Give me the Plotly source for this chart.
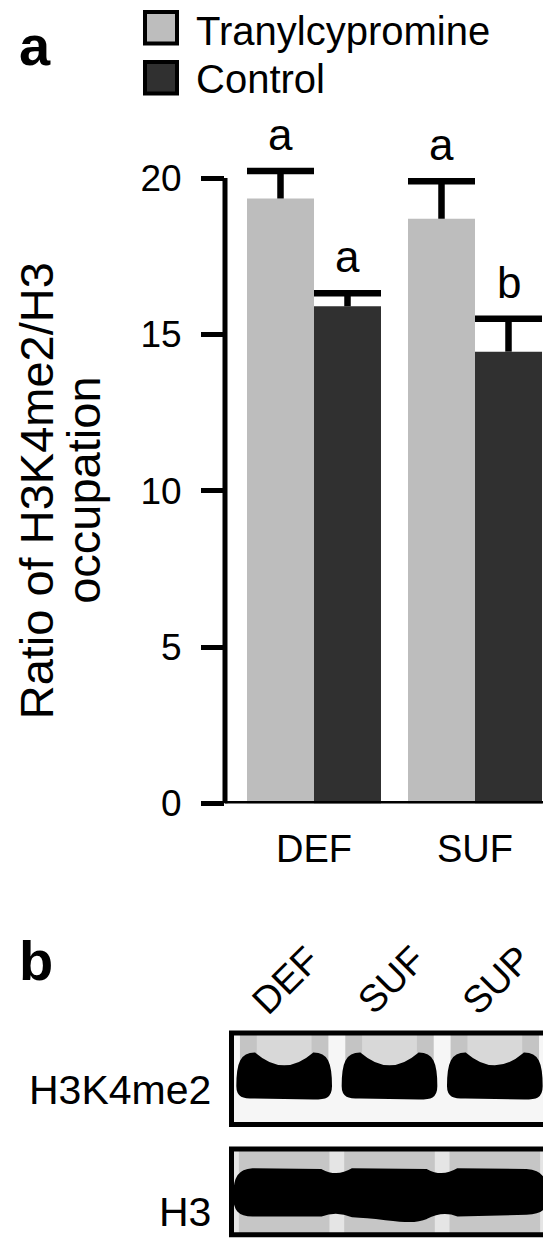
import plotly.graph_objects as go

W, H = 551, 1257

# ---------------- data ----------------
categories = ["DEF", "SUF"]
series_names = ["Tranylcypromine", "Control"]
tranyl_mean = [19.35, 18.7]
tranyl_err = [0.88, 1.2]
control_mean = [15.9, 14.45]
control_err = [0.42, 1.05]
sig_tranyl = ["a", "a"]
sig_control = ["a", "b"]
series_colors = ["#bdbdbd", "#303030"]
y_ticks = [0, 5, 10, 15, 20]
y_title_lines = ["Ratio of H3K4me2/H3", "occupation"]
blot_lanes = ["DEF", "SUF", "SUP"]
blot_rows = ["H3K4me2", "H3"]

FONT = "Liberation Sans, Arial, Helvetica, sans-serif"


def fx(px):
    return px / W


def fy(py):
    return 1 - py / H


# pixel geometry of panel a
Y0_PX, Y20_PX = 809, 173
PER_UNIT = (Y0_PX - Y20_PX) / 20.0
Y_MAX = 23.0
y_top_px = Y0_PX - Y_MAX * PER_UNIT
AX_X_PX = 217
CAT_PX = 161.0
x_lo = -(306 - AX_X_PX) / CAT_PX
x_hi = 1 + (550 - 467) / CAT_PX
bargap = 27 / CAT_PX
bar_w_units = (1 - bargap) / 2

fig = go.Figure()

series_means = [tranyl_mean, control_mean]
series_errs = [tranyl_err, control_err]
for name, mean, col in zip(series_names, series_means, series_colors):
    fig.add_trace(go.Bar(
        x=list(range(len(categories))), y=mean, name=name,
        marker=dict(color=col, line=dict(width=0)),
        showlegend=False, xaxis="x", yaxis="y",
    ))

# upper-only error bars (stem + cap spanning the bar width)
for si, (mean, err) in enumerate(zip(series_means, series_errs)):
    off = (-0.5 + si) * bar_w_units
    hw = bar_w_units / 2
    xs, ys = [], []
    for i in range(len(categories)):
        xc = i + off
        top = mean[i] + err[i]
        xs += [xc, xc, None, xc - hw, xc + hw, None]
        ys += [mean[i], top, None, top, top, None]
    fig.add_trace(go.Scatter(x=xs, y=ys, mode="lines", line=dict(color="black", width=6.5),
                             showlegend=False, hoverinfo="skip", xaxis="x", yaxis="y"))

# invisible traces to activate blot axes
for ax in ["2", "3"]:
    fig.add_trace(go.Scatter(x=[0, 3], y=[0, 1], mode="markers", marker=dict(opacity=0),
                             showlegend=False, hoverinfo="skip", xaxis="x" + ax, yaxis="y" + ax))

shapes = []
annotations = []

# axis lines of panel a
shapes.append(dict(type="line", xref="x domain", x0=0, x1=0, yref="y", y0=0, y1=max(y_ticks),
                   line=dict(color="black", width=5)))
shapes.append(dict(type="line", xref="x domain", x0=0, x1=1, yref="y", y0=0, y1=0,
                   line=dict(color="black", width=5)))

# significance letters
for si, (mean, err, sig) in enumerate(zip(series_means, series_errs, [sig_tranyl, sig_control])):
    off = (-0.5 + si) * bar_w_units
    for i in range(len(categories)):
        annotations.append(dict(x=i + off, y=mean[i] + err[i], xref="x", yref="y", text=sig[i],
                                showarrow=False, yanchor="bottom", xanchor="center", yshift=10,
                                font=dict(family=FONT, size=44, color="black")))

# legend (manual, large swatches)
leg_y = [20, 71]
leg_text_y = [23.5, 72]
for name, col, cy, ty in zip(series_names, series_colors, leg_y, leg_text_y):
    shapes.append(dict(type="rect", xref="paper", yref="paper",
                       x0=fx(137), x1=fx(169), y0=fy(cy - 16), y1=fy(cy + 16),
                       fillcolor=col, line=dict(color="black", width=4)))
    annotations.append(dict(x=fx(186), y=fy(ty), xref="paper", yref="paper", text=name,
                            showarrow=False, xanchor="left", yanchor="middle",
                            font=dict(family=FONT, size=40, color="black")))

# y title (two rotated lines)
for line, cx in zip(y_title_lines, [28.5, 76]):
    annotations.append(dict(x=fx(cx), y=fy(491), xref="paper", yref="paper", text=line,
                            textangle=-90, showarrow=False, xanchor="center", yanchor="middle",
                            font=dict(family=FONT, size=47, color="black")))

# panel labels
annotations.append(dict(x=fx(27), y=fy(38), xref="paper", yref="paper", text="<b>a</b>",
                        showarrow=False, xanchor="center", yanchor="middle",
                        font=dict(family=FONT, size=56, color="black")))
annotations.append(dict(x=fx(28), y=fy(969), xref="paper", yref="paper", text="<b>b</b>",
                        showarrow=False, xanchor="center", yanchor="middle",
                        font=dict(family=FONT, size=56, color="black")))

# ---------------- panel b: blot ----------------
BOX_X = (223.5, 539.5)
BOX1_Y = (1042.5, 1135.5)
BOX2_Y = (1160.5, 1247.5)

# lane labels (rotated)
for i, lab in enumerate(blot_lanes):
    annotations.append(dict(x=i + 0.5 + 0.02, y=fy(989), xref="x2", yref="paper", text=lab,
                            textangle=-45, showarrow=False, xanchor="center", yanchor="middle",
                            font=dict(family=FONT, size=38, color="black")))

# row labels
for lab, cy in zip(blot_rows, [1100, 1224]):
    annotations.append(dict(x=fx(205), y=fy(cy), xref="paper", yref="paper", text=lab,
                            showarrow=False, xanchor="right", yanchor="middle",
                            font=dict(family=FONT, size=41, color="black")))

# box 1 background smear + bands
shapes.append(dict(type="rect", xref="x2", yref="y2", x0=0, x1=3, y0=0, y1=1,
                   fillcolor="#f6f6f6", line=dict(width=0), layer="below"))
for i in range(len(blot_lanes)):
    c = i + 0.5
    hw = 0.44
    shapes.append(dict(type="rect", xref="x2", yref="y2", x0=c - hw + 0.02, x1=c + hw - 0.02,
                       y0=0.5, y1=1, fillcolor="rgba(0,0,0,0.20)", line=dict(width=0)))
    shapes.append(dict(type="rect", xref="x2", yref="y2", x0=c - hw + 0.18, x1=c + hw - 0.18,
                       y0=0.5, y1=1, fillcolor="rgba(255,255,255,0.35)", line=dict(width=0)))
    L, R = c - hw, c + hw
    path = (f"M {L},0.42 C {L},0.68 {L+0.04},0.77 {L+0.16},0.77 "
            f"Q {c},0.49 {R-0.16},0.77 "
            f"C {R-0.04},0.77 {R},0.68 {R},0.42 "
            f"C {R},0.30 {R-0.05},0.29 {R-0.16},0.29 "
            f"L {L+0.16},0.30 C {L+0.05},0.30 {L},0.31 {L},0.42 Z")
    shapes.append(dict(type="path", xref="x2", yref="y2", path=path,
                       fillcolor="black", line=dict(color="black", width=3)))

# box 2 background + band
shapes.append(dict(type="rect", xref="x3", yref="y3", x0=0, x1=3, y0=0, y1=1,
                   fillcolor="#c6c6c6", line=dict(width=0)))
for b in [0, 1, 2, 3]:
    shapes.append(dict(type="rect", xref="x3", yref="y3", x0=max(0, b - 0.07), x1=min(3, b + 0.07),
                       y0=0, y1=1, fillcolor="rgba(255,255,255,0.55)", line=dict(width=0)))
band2 = ("M 0.03,0.45 C 0.03,0.68 0.08,0.75 0.2,0.76 L 0.85,0.75 Q 1.0,0.65 1.15,0.76 "
         "L 1.85,0.75 Q 2.0,0.65 2.15,0.76 L 2.8,0.75 C 2.95,0.74 2.98,0.65 2.98,0.45 "
         "C 2.98,0.30 2.95,0.26 2.8,0.25 L 2.15,0.23 Q 2.0,0.30 1.85,0.2 "
         "C 1.7,0.12 1.5,0.2 1.15,0.22 Q 1.0,0.30 0.85,0.23 L 0.2,0.23 "
         "C 0.07,0.23 0.03,0.30 0.03,0.45 Z")
shapes.append(dict(type="path", xref="x3", yref="y3", path=band2,
                   fillcolor="black", line=dict(color="black", width=3)))

# box borders
for ax in ["2", "3"]:
    shapes.append(dict(type="rect", xref=f"x{ax} domain", yref=f"y{ax} domain", x0=0, x1=1, y0=0, y1=1,
                       line=dict(color="black", width=5), fillcolor="rgba(0,0,0,0)"))

fig.update_layout(
    width=W, height=H, margin=dict(l=0, r=0, t=0, b=0),
    paper_bgcolor="white", plot_bgcolor="white",
    barmode="group", bargap=bargap, bargroupgap=0,
    font=dict(family=FONT, color="black"),
    xaxis=dict(domain=[fx(AX_X_PX), fx(550)], range=[x_lo, x_hi], showline=False, showgrid=False,
               zeroline=False, ticks="", tickmode="array", tickvals=list(range(len(categories))),
               ticktext=categories, tickfont=dict(size=38, family=FONT), anchor="y",
               ticklabelstandoff=20),
    yaxis=dict(domain=[fy(Y0_PX), fy(y_top_px)], range=[0, Y_MAX], tickvals=y_ticks, showline=False,
               showgrid=False, zeroline=False, ticks="outside", ticklen=23, tickwidth=5,
               tickcolor="black", tickfont=dict(size=37, family=FONT), anchor="x",
               ticklabelstandoff=12),
    xaxis2=dict(domain=[fx(BOX_X[0]), fx(BOX_X[1])], range=[0, 3], visible=False, anchor="y2"),
    yaxis2=dict(domain=[fy(BOX1_Y[1]), fy(BOX1_Y[0])], range=[0, 1], visible=False, anchor="x2"),
    xaxis3=dict(domain=[fx(BOX_X[0]), fx(BOX_X[1])], range=[0, 3], visible=False, anchor="y3"),
    yaxis3=dict(domain=[fy(BOX2_Y[1]), fy(BOX2_Y[0])], range=[0, 1], visible=False, anchor="x3"),
    shapes=shapes, annotations=annotations,
)

fig.write_html("out.html")
